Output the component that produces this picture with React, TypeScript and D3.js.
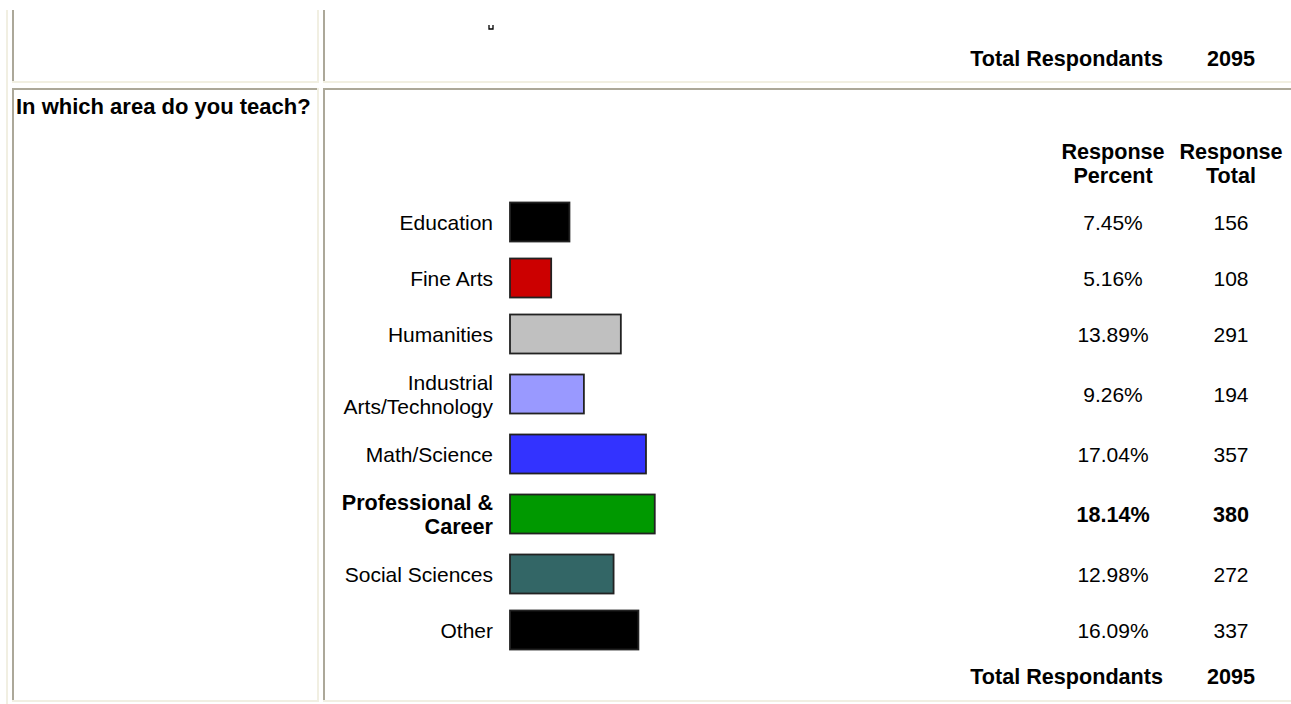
import React from 'react';
import * as d3 from 'd3';

const question = 'In which area do you teach?';
const categories = [
  'Education',
  'Fine Arts',
  'Humanities',
  'Industrial Arts/Technology',
  'Math/Science',
  'Professional & Career',
  'Social Sciences',
  'Other',
];
const labelLines = [
  ['Education'],
  ['Fine Arts'],
  ['Humanities'],
  ['Industrial', 'Arts/Technology'],
  ['Math/Science'],
  ['Professional &', 'Career'],
  ['Social Sciences'],
  ['Other'],
];
const percents = [7.45, 5.16, 13.89, 9.26, 17.04, 18.14, 12.98, 16.09];
const totals = [156, 108, 291, 194, 357, 380, 272, 337];
const barColors = ['#000000', '#cc0000', '#c0c0c0', '#9999ff', '#3333ff', '#009900', '#336666', '#000000'];
const headerPct = ['Response', 'Percent'];
const headerTot = ['Response', 'Total'];
const totalRespondents = 2095;

const W = 1291;
const H = 704;
const FONT = '"Liberation Sans", Arial, Helvetica, sans-serif';
const FS = 21;
const FS_BOLD = 21.6;
const DARK = '#aca899';
const LIGHT = '#f1efe2';

export default function App() {
  // rows: single-line labels are shorter than two-line ones
  const rowHeights = labelLines.map(l => (l.length > 1 ? 64 : 56));
  const rowTop = 194;
  const offsets = [0, ...Array.from(d3.cumsum(rowHeights))];
  const centers = rowHeights.map((h, i) => rowTop + offsets[i] + h / 2);
  const maxIdx = d3.maxIndex(percents);

  const x = d3.scaleLinear().domain([0, 100]).range([510, 510 + 798]);
  const barH = 39;
  const labelRight = 493;
  const pctCol = 1113;
  const totCol = 1231;
  const fmtPct = (v: number) => d3.format('.2f')(v) + '%';

  return (
    <svg
      width={W}
      height={H}
      style={{ position: 'absolute', left: 0, top: 0, background: '#fff' }}
      fontFamily={FONT}
      fontSize={FS}
    >
      {/* table borders */}
      <g>
        <rect x={6} y={10} width={2} height={H - 10} fill={LIGHT} />
        {/* row 1 */}
        <rect x={12} y={10} width={2} height={73} fill={DARK} />
        <rect x={317} y={10} width={2} height={73} fill={LIGHT} />
        <rect x={12} y={81} width={307} height={2} fill={LIGHT} />
        <rect x={323} y={10} width={2} height={73} fill={DARK} />
        <rect x={323} y={81} width={W - 323} height={2} fill={LIGHT} />
        {/* row 2 */}
        <rect x={12} y={88} width={306} height={2} fill={DARK} />
        <rect x={12} y={88} width={2} height={614} fill={DARK} />
        <rect x={317} y={88} width={2} height={614} fill={LIGHT} />
        <rect x={12} y={700} width={307} height={2} fill={LIGHT} />
        <rect x={323} y={88} width={W - 323} height={2} fill={DARK} />
        <rect x={323} y={88} width={2} height={614} fill={DARK} />
        <rect x={323} y={700} width={W - 323} height={2} fill={LIGHT} />
      </g>

      {/* remnant of the previous chart */}
      <path d="M489,25 V29 H493 V25" fill="none" stroke="#000" strokeWidth={1.3} />

      <g fontWeight="bold" fontSize={FS_BOLD}>
        <text x={1163} y={66} textAnchor="end">Total Respondants</text>
        <text x={totCol} y={66} textAnchor="middle">{totalRespondents}</text>
        <text x={16} y={114} fontSize={22}>{question}</text>
        <g textAnchor="middle">
          <text x={pctCol} y={158.5}>
            {headerPct.map((t, j) => (
              <tspan key={t} x={pctCol} dy={j === 0 ? 0 : 24.5}>{t}</tspan>
            ))}
          </text>
          <text x={totCol} y={158.5}>
            {headerTot.map((t, j) => (
              <tspan key={t} x={totCol} dy={j === 0 ? 0 : 24.5}>{t}</tspan>
            ))}
          </text>
        </g>
      </g>

      {categories.map((c, i) => {
        const cy = centers[i];
        const bold = i === maxIdx;
        const lines = labelLines[i];
        return (
          <g key={c} fontWeight={bold ? 'bold' : 'normal'} fontSize={bold ? FS_BOLD : FS}>
            <text
              x={labelRight}
              y={lines.length > 1 ? cy - 4 : cy + 7.5}
              textAnchor="end"
            >
              {lines.map((ln, j) => (
                <tspan key={ln} x={labelRight} dy={j === 0 ? 0 : 24}>{ln}</tspan>
              ))}
            </text>
            <rect
              x={x(0)}
              y={cy - barH / 2}
              width={x(percents[i]) - x(0)}
              height={barH}
              fill={barColors[i]}
              stroke="#222"
              strokeWidth={1.8}
            />
            <text x={pctCol} y={cy + 7.5} textAnchor="middle">{fmtPct(percents[i])}</text>
            <text x={totCol} y={cy + 7.5} textAnchor="middle">{totals[i]}</text>
          </g>
        );
      })}

      <g fontWeight="bold" fontSize={FS_BOLD}>
        <text x={1163} y={684} textAnchor="end">Total Respondants</text>
        <text x={totCol} y={684} textAnchor="middle">{totalRespondents}</text>
      </g>
    </svg>
  );
}
